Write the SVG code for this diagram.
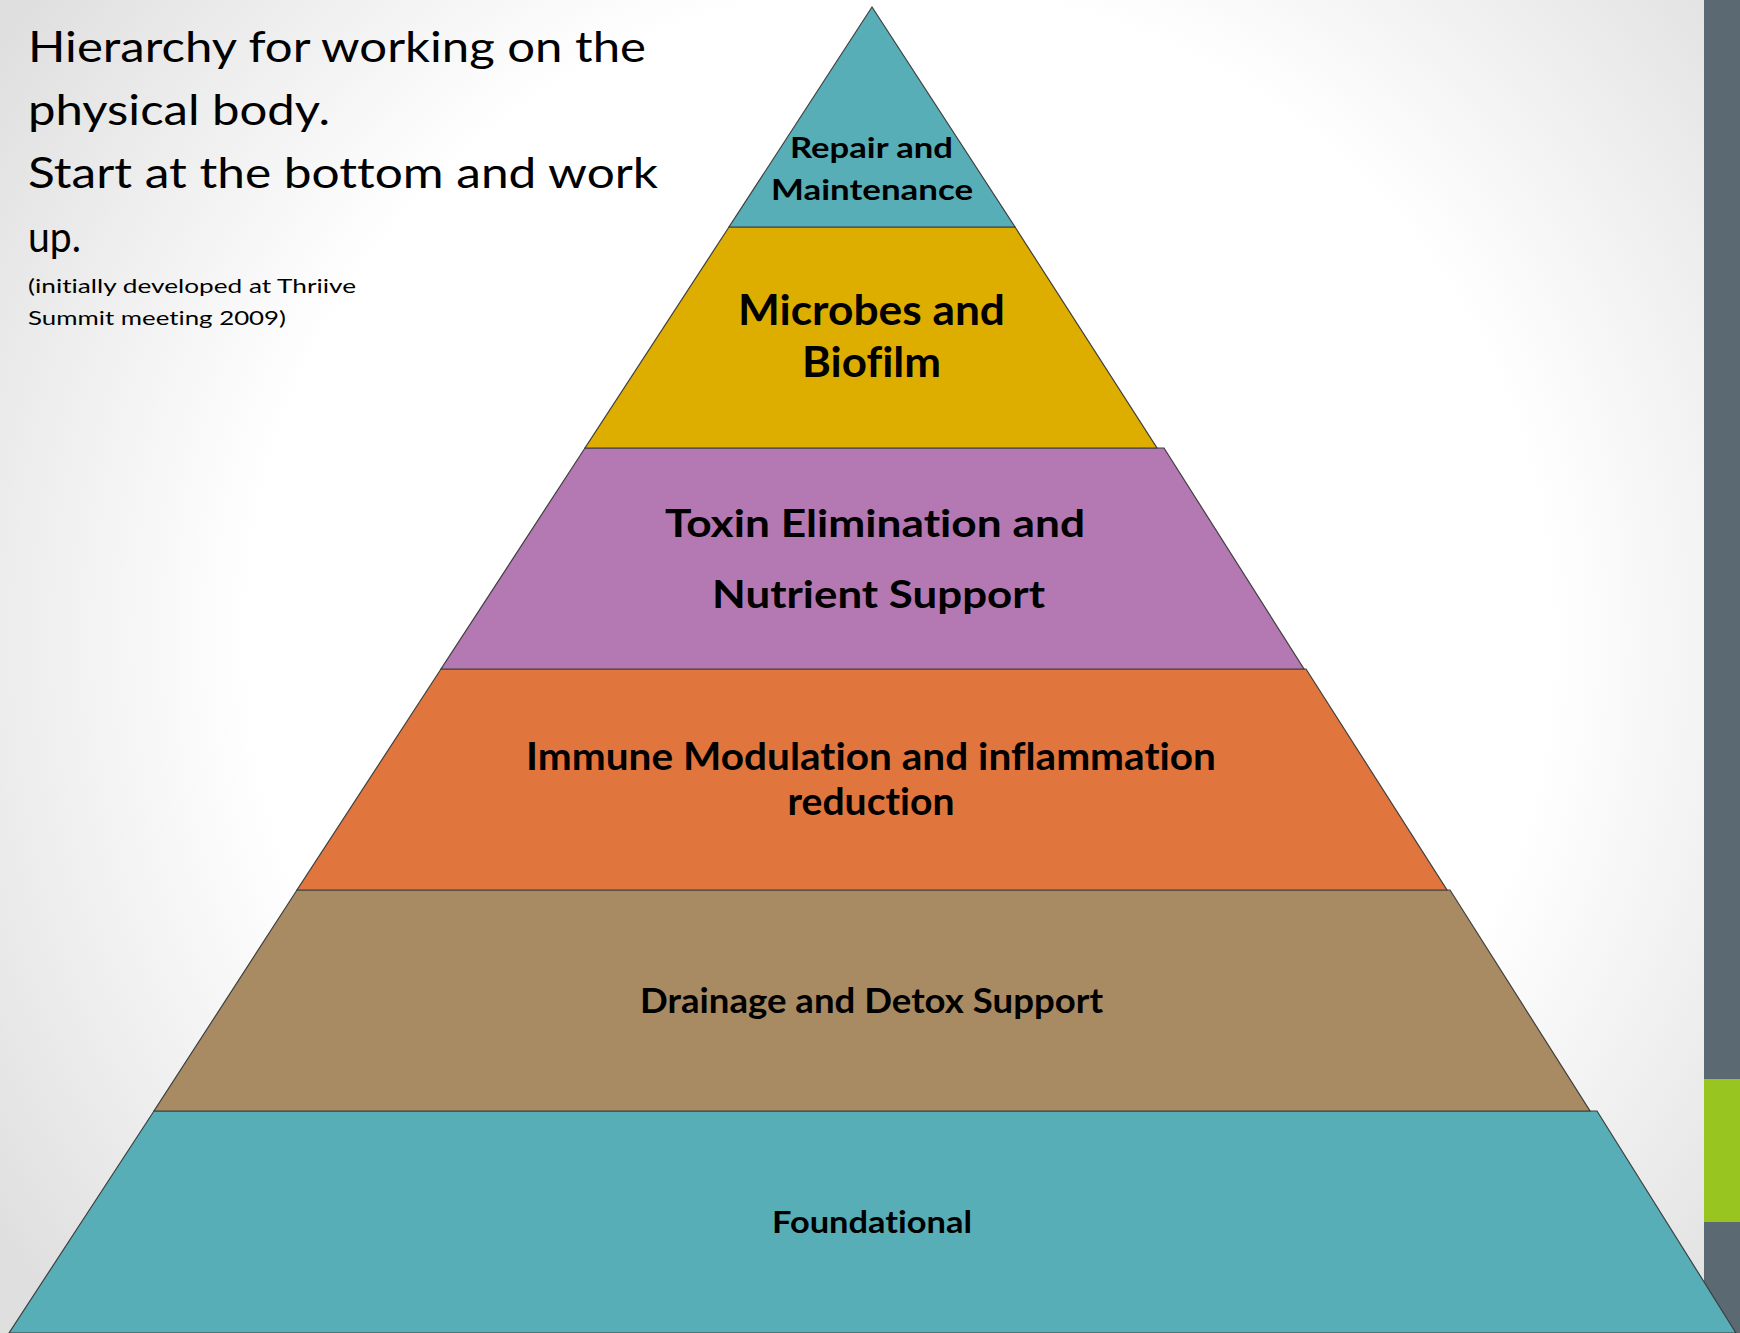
<svg xmlns="http://www.w3.org/2000/svg" width="1740" height="1333" viewBox="0 0 1740 1333">
  <defs>
    <radialGradient id="bg" gradientUnits="userSpaceOnUse" cx="900" cy="640" r="1080">
      <stop offset="0.6" stop-color="#ffffff"/>
      <stop offset="1" stop-color="#dfdfdf"/>
    </radialGradient>
  </defs>
  <style>
    .layer { stroke: #3f3f3f; stroke-width: 1.2; stroke-linejoin: miter; }
    text { font-variant-ligatures: none; font-feature-settings: "liga" 0, "dlig" 0; }
    .lbl { font-family: Lato, "Open Sans", "Liberation Sans", sans-serif; font-weight: bold; fill: #000; text-anchor: middle; }
    .title { font-family: Lato, "Open Sans", "Liberation Sans", sans-serif; fill: #000; font-size: 42px; }
    .note { font-family: Lato, "Open Sans", "Liberation Sans", sans-serif; fill: #000; font-size: 19px; }
  </style>

  <rect id="background" x="0" y="0" width="1740" height="1333" fill="url(#bg)"/>

  <g id="sidebar">
    <rect x="1704" y="0" width="36" height="1333" fill="#5b6973"/>
    <rect x="1704" y="1079" width="36" height="143" fill="#99c520"/>
  </g>

  <g id="title">
    <text class="title" x="28" y="62" textLength="618" lengthAdjust="spacingAndGlyphs">Hierarchy for working on the</text>
    <text class="title" x="28" y="125" textLength="302" lengthAdjust="spacingAndGlyphs">physical body.</text>
    <text class="title" x="28" y="188" textLength="630" lengthAdjust="spacingAndGlyphs">Start at the bottom and work</text>
    <text class="title" x="28" y="252" textLength="53" lengthAdjust="spacingAndGlyphs">up.</text>
    <text class="note" x="28" y="293" textLength="328" lengthAdjust="spacingAndGlyphs">(initially developed at Thriive</text>
    <text class="note" x="28" y="325" textLength="258" lengthAdjust="spacingAndGlyphs">Summit meeting 2009)</text>
  </g>

  <g id="connectors"></g>

  <g id="foundational">
    <polygon class="layer" fill="#57aeb7" points="154,1111 1597,1111 1736,1333 9,1333"/>
    <text class="lbl" x="872" y="1233" font-size="31" textLength="200" lengthAdjust="spacingAndGlyphs">Foundational</text>
  </g>

  <g id="drainage">
    <polygon class="layer" fill="#a88b63" points="297,890 1450,890 1590,1111 154,1111"/>
    <text class="lbl" x="871.5" y="1013" font-size="35" textLength="463" lengthAdjust="spacingAndGlyphs">Drainage and Detox Support</text>
  </g>

  <g id="immune">
    <polygon class="layer" fill="#e0763e" points="441,669 1306,669 1447,890 297,890"/>
    <text class="lbl" x="871" y="770" font-size="38" textLength="690" lengthAdjust="spacingAndGlyphs">Immune Modulation and inflammation</text>
    <text class="lbl" x="871" y="815" font-size="38" textLength="167" lengthAdjust="spacingAndGlyphs">reduction</text>
  </g>

  <g id="toxin">
    <polygon class="layer" fill="#b478b2" points="585,448 1164,448 1304,669 441,669"/>
    <text class="lbl" x="875" y="537" font-size="38" textLength="420" lengthAdjust="spacingAndGlyphs">Toxin Elimination and</text>
    <text class="lbl" x="878.5" y="608" font-size="38" textLength="333" lengthAdjust="spacingAndGlyphs">Nutrient Support</text>
  </g>

  <g id="microbes">
    <polygon class="layer" fill="#ddad00" points="729,227 1015,227 1157,448 585,448"/>
    <text class="lbl" x="871.5" y="325" font-size="42" textLength="267" lengthAdjust="spacingAndGlyphs">Microbes and</text>
    <text class="lbl" x="871.5" y="377" font-size="42" textLength="139" lengthAdjust="spacingAndGlyphs">Biofilm</text>
  </g>

  <g id="repair">
    <polygon class="layer" fill="#57aeb7" points="872,7 1015,227 729,227"/>
    <text class="lbl" x="871.5" y="158" font-size="28" textLength="163" lengthAdjust="spacingAndGlyphs">Repair and</text>
    <text class="lbl" x="872" y="200" font-size="28" textLength="202" lengthAdjust="spacingAndGlyphs">Maintenance</text>
  </g>
</svg>
